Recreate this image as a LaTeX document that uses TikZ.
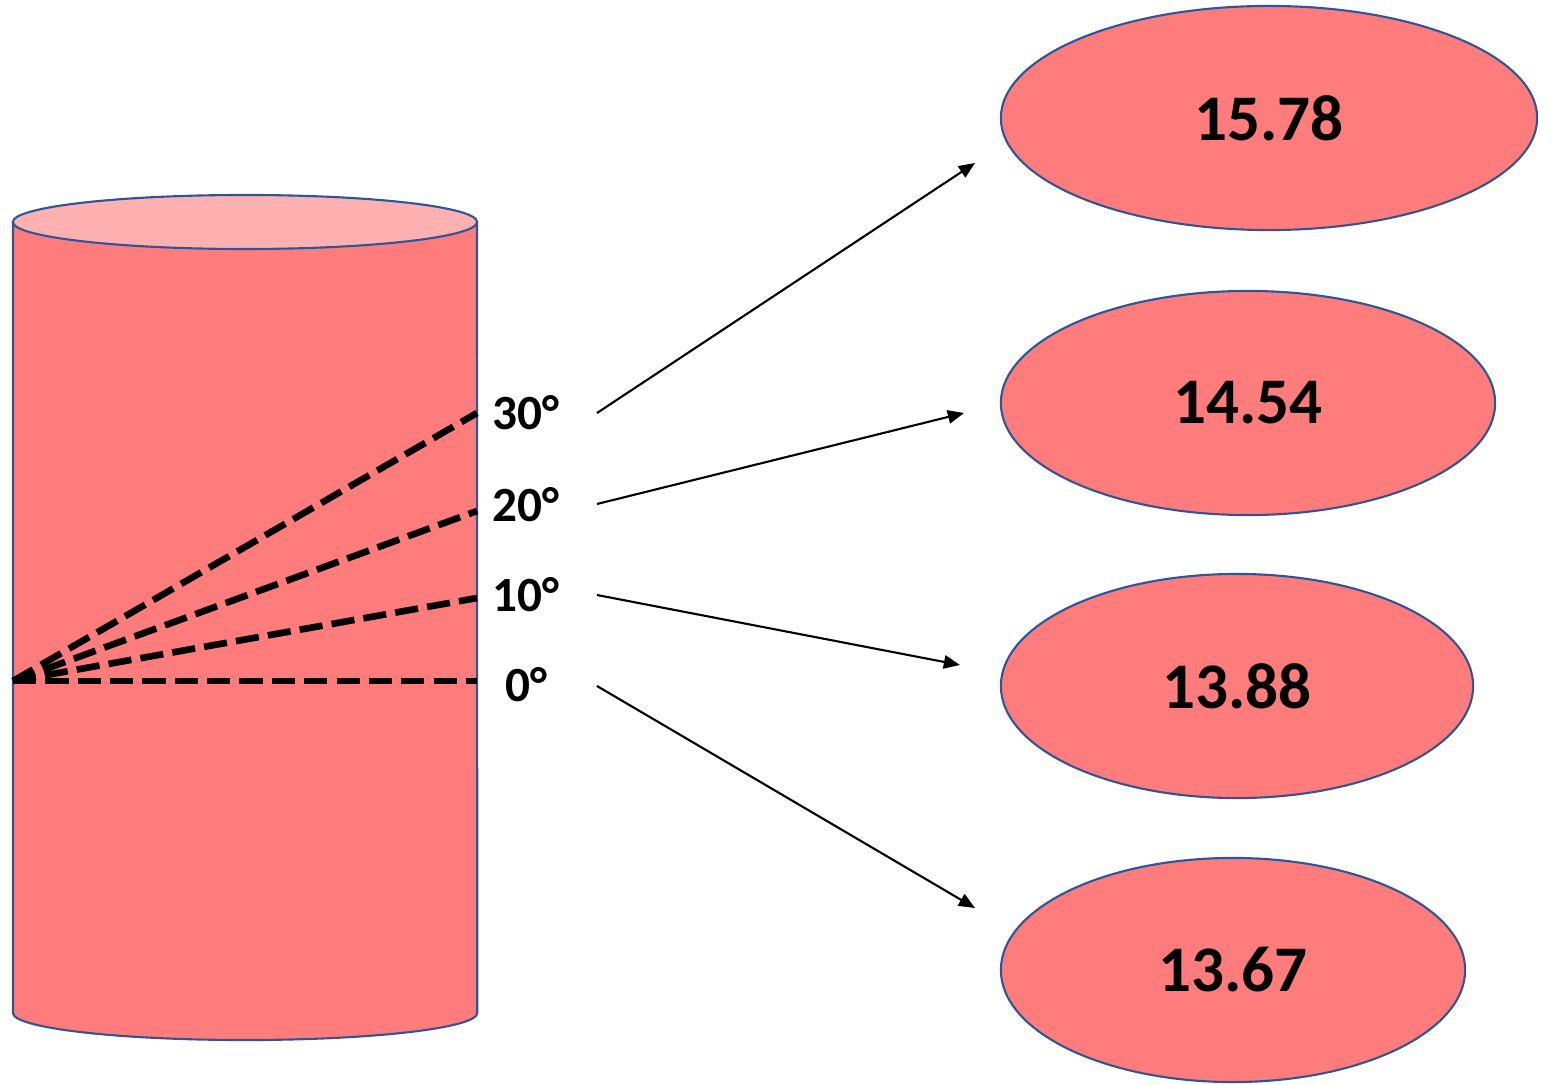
\documentclass[tikz,border=0pt]{standalone}
\usepackage{fontspec}
\setmainfont{Carlito}
\usetikzlibrary{shapes.geometric,arrows.meta}
\definecolor{bodyred}{RGB}{255,124,124}
\definecolor{topred}{RGB}{255,176,176}
\definecolor{edgeblue}{RGB}{47,85,151}
\tikzset{
  valnode/.style={ellipse, draw=edgeblue, line width=0.6pt, fill=bodyred, inner sep=0pt,
    minimum height=2.24cm, font=\fontsize{18.5}{21}\selectfont\bfseries},
  anglabel/.style={font=\fontsize{14}{16}\selectfont\bfseries, inner sep=0pt},
  ray/.style={line width=1.9pt, dash pattern=on 6.6pt off 2.6pt, black},
  conn/.style={line width=0.6pt, -{Triangle[length=4.6pt,width=3.8pt]}}
}
\begin{document}
\begin{tikzpicture}[x=0.01cm,y=0.01cm]
\useasboundingbox (0,0) rectangle (1552,1084);
% cylinder body
\path[fill=bodyred] (13,862) -- (13,71) arc[start angle=180,end angle=360,x radius=2.32cm,y radius=0.27cm] -- (477,862) -- cycle;
\draw[edgeblue, line width=0.6pt] (13,862) -- (13,71) arc[start angle=180,end angle=360,x radius=2.32cm,y radius=0.27cm] -- (477,862);
\draw[edgeblue, line width=0.6pt, fill=topred] (245,862) ellipse[x radius=2.32cm, y radius=0.27cm];
% rays
\coordinate (o) at (13,403);
\coordinate (r30) at (477,671);
\coordinate (r20) at (477,573);
\coordinate (r10) at (477,486);
\coordinate (r0) at (477,403);
\draw[ray] (o) -- (r30);
\draw[ray] (o) -- (r20);
\draw[ray] (o) -- (r10);
\draw[ray] (o) -- (r0);
% labels
\node[anglabel] (l30) at (526,671) {30°};
\node[anglabel] (l20) at (526,579) {20°};
\node[anglabel] (l10) at (526,489) {10°};
\node[anglabel] (l0) at (526,399) {0°};
% value ellipses
\node[valnode, minimum width=5.36cm] (v1) at (1269,966) {15.78};
\node[valnode, minimum width=4.94cm] (v2) at (1248,681) {14.54};
\node[valnode, minimum width=4.72cm] (v3) at (1237,398) {13.88};
\node[valnode, minimum width=4.64cm] (v4) at (1233,114) {13.67};
% connectors
\coordinate (s1) at (597,671);
\coordinate (s2) at (597,580);
\coordinate (s3) at (597,489);
\coordinate (s4) at (597,398);
\coordinate (e1) at (975,921);
\coordinate (e2) at (964,671);
\coordinate (e3) at (960,419);
\coordinate (e4) at (975,176);
\draw[conn] (s1) -- (e1);
\draw[conn] (s2) -- (e2);
\draw[conn] (s3) -- (e3);
\draw[conn] (s4) -- (e4);
\end{tikzpicture}
\end{document}
